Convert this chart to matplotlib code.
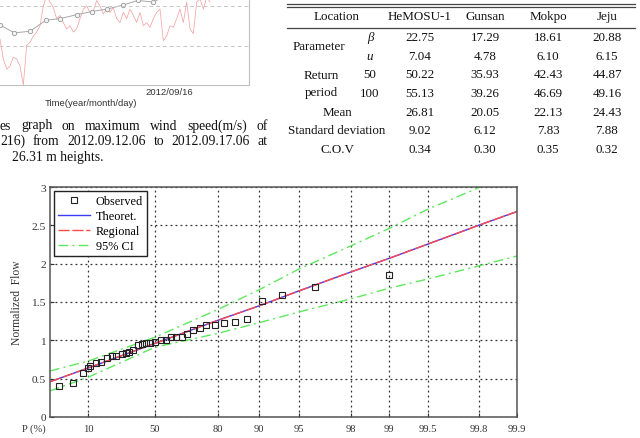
import numpy as np
import matplotlib
matplotlib.use('Agg')
import matplotlib.pyplot as plt
from matplotlib.lines import Line2D

W, H = 640, 439
SERIF = ['Liberation Serif', 'DejaVu Serif']
SANS = ['Liberation Sans', 'DejaVu Sans']

# --- time series (partial, top left) ---
ts_red_hours = list(range(64))
ts_red_speed = [5.8, 3.3, 2.0, 2.4, 3.5, 3.3, 2.4, 0.0, 5.0, 5.4, 6.2, 6.7, 7.5, 10.0, 11.3, 10.5,
                9.8, 8.4, 8.8, 7.9, 7.1, 7.5, 6.7, 7.1, 8.4, 9.6, 10.0, 9.2, 9.4, 10.7, 10.0, 9.0,
                9.6, 9.2, 9.8, 8.4, 7.9, 9.2, 8.4, 9.6, 8.8, 7.9, 9.2, 7.5, 7.9, 7.3, 8.4, 9.2,
                9.6, 5.6, 6.2, 7.5, 7.3, 8.4, 9.6, 7.9, 10.5, 7.1, 6.5, 10.5, 10.9, 9.6, 11.1, 10.5]
ts_grey_hours = [0, 4.3, 9.0, 13.8, 18.0, 23.0, 27.5, 32.0, 36.8, 41.3, 46.0, 50.5]
ts_grey_speed = [7.6, 6.6, 6.8, 8.2, 8.4, 8.9, 9.3, 9.6, 10.1, 10.7, 10.5, 11.5]
ts_tick_hour = 50.7
ts_tick_label = '2012/09/16'

caption_lines = ['es graph on maximum wind speed(m/s) of',
                 '216) from 2012.09.12.06 to 2012.09.17.06 at',
                 '26.31 m heights.']

# --- table (top right) ---
stations = ['HeMOSU-1', 'Gunsan', 'Mokpo', 'Jeju']
beta = ['22.75', '17.29', '18.61', '20.88']
u_par = ['7.04', '4.78', '6.10', '6.15']
rp50 = ['50.22', '35.93', '42.43', '44.87']
rp100 = ['55.13', '39.26', '46.69', '49.16']
mean = ['26.81', '20.05', '22.13', '24.43']
std = ['9.02', '6.12', '7.83', '7.88']
cov = ['0.34', '0.30', '0.35', '0.32']

# --- probability plot ---
obs_p = [1.95, 4.8, 7.8, 10.0, 10.6, 13.3, 16.0, 19.2, 22.1, 24.7, 28.4, 31.2, 33.4, 36.0,
         38.9, 41.6, 44.4, 47.0, 50.2, 53.7, 56.7, 59.5, 62.4, 65.2, 67.8, 70.6, 73.4, 76.0,
         79.2, 82.0, 84.9, 87.8, 90.5, 93.3, 96.2, 99.0]
obs_q = [0.40, 0.45, 0.57, 0.64, 0.67, 0.71, 0.72, 0.77, 0.79, 0.79, 0.82, 0.83, 0.85, 0.88,
         0.94, 0.95, 0.965, 0.97, 0.98, 1.00, 1.01, 1.04, 1.045, 1.05, 1.08, 1.135, 1.16, 1.195,
         1.195, 1.226, 1.235, 1.28, 1.51, 1.59, 1.70, 1.85]
fit_p = [1, 10, 50, 80, 90, 95, 98, 99, 99.5, 99.8, 99.9]
theoret_q = [0.46, 0.64, 0.96, 1.26, 1.45, 1.645, 1.89, 2.07, 2.255, 2.50, 2.68]
regional_q = [0.46, 0.64, 0.96, 1.26, 1.45, 1.645, 1.89, 2.07, 2.255, 2.50, 2.68]
ci_upper_q = [0.60, 0.73, 1.04, 1.40, 1.66, 1.93, 2.23, 2.46, 2.71, 2.99, 3.2]
ci_lower_q = [0.34, 0.52, 0.91, 1.09, 1.23, 1.37, 1.54, 1.68, 1.80, 1.97, 2.10]
p_ticks = [10, 50, 80, 90, 95, 98, 99, 99.5, 99.8, 99.9]
q_ticks = [0, 0.5, 1, 1.5, 2, 2.5, 3]


def px_axes(fig, x0, y0, x1, y1):
    # pixel box (top-left origin) -> figure axes
    return fig.add_axes([x0 / W, 1 - y1 / H, (x1 - x0) / W, (y1 - y0) / H])


def ftext(fig, x, y, s, **kw):
    return fig.text(x / W, 1 - y / H, s, **kw)


def gumbel(p):
    p = np.clip(np.asarray(p, dtype=float) / 100.0, 1e-12, 1 - 1e-12)
    return -np.log(-np.log(p))


def gumbel_inv(z):
    return 100.0 * np.exp(-np.exp(-np.asarray(z, dtype=float)))


fig = plt.figure(figsize=(W / 100, H / 100), dpi=100)

# ---------- top-left time series, cut by the page edge ----------
ax_ts = px_axes(fig, -100, -32.5, 249, 86)
ax_ts.plot(ts_red_hours, ts_red_speed, color='#f4a4a4', lw=0.55)
ax_ts.plot(ts_grey_hours, ts_grey_speed, color='#a8a8a8', lw=0.7, marker='o', ms=3.2,
           mfc='#f4f4f4', mec='#999999', mew=0.6)
ax_ts.set_xlim(-30, 74.7)
ax_ts.set_ylim(0, 15)
for yv in [5, 10]:
    ax_ts.axhline(yv, color='#c8c8c8', lw=0.7, ls=(0, (4, 3)))
ax_ts.set_xticks([ts_tick_hour])
ax_ts.set_xticklabels([ts_tick_label], family=SANS, fontsize=6.8, color='#333333')
ax_ts.tick_params(axis='x', length=0, pad=1.5)
ax_ts.set_yticks([])
for side in ['left', 'top']:
    ax_ts.spines[side].set_visible(False)
for side in ['right', 'bottom']:
    ax_ts.spines[side].set_color('#c0c0c0')
    ax_ts.spines[side].set_linewidth(0.8)
ftext(fig, 91, 103.5, 'Time(year/month/day)', family=SANS, fontsize=6.8, color='#333333',
      ha='center', va='center')

# ---------- caption, justified ----------
renderer = fig.canvas.get_renderer()


def justified(words, x0, x1, y, **kw):
    texts = [ftext(fig, 0, y, w, ha='left', va='baseline', **kw) for w in words]
    widths = [t.get_window_extent(renderer).width for t in texts]
    gap = (x1 - x0 - sum(widths)) / (len(words) - 1)
    x = x0
    for t, w in zip(texts, widths):
        t.set_x(x / W)
        x += w + gap


cap_kw = dict(family=SERIF, fontsize=9.8, color='#111111')
justified(caption_lines[0].split(), 0, 268, 129.5, **cap_kw)
justified(caption_lines[1].split(), 0, 268, 145, **cap_kw)
ftext(fig, 12, 160.5, caption_lines[2], ha='left', va='baseline', **cap_kw)

# ---------- table ----------
tab_kw = dict(family=SERIF, fontsize=9.4, color='#111111', va='center')
x_lab, x_sub = 337, 370
x_cols = [420, 485, 548, 607]
for yl in [5, 7.5, 29]:
    fig.add_artist(Line2D([287 / W, 635 / W], [1 - yl / H, 1 - yl / H], color='#444444', lw=0.9))
ftext(fig, x_lab, 17, 'Location', ha='center', **tab_kw)
for xc, name in zip(x_cols, stations):
    ftext(fig, xc, 17, name, ha='center', **tab_kw)
ftext(fig, 319, 47, 'Parameter', ha='center', **tab_kw)
ftext(fig, x_sub, 38, '\u03b2', ha='center', style='italic', **tab_kw)
ftext(fig, x_sub, 57, 'u', ha='center', style='italic', **tab_kw)
ftext(fig, 321, 76, 'Return', ha='center', **tab_kw)
ftext(fig, 321, 93, 'period', ha='center', **tab_kw)
ftext(fig, x_sub, 75, '50', ha='center', **tab_kw)
ftext(fig, x_sub, 94, '100', ha='center', **tab_kw)
ftext(fig, x_lab, 113, 'Mean', ha='center', **tab_kw)
ftext(fig, x_lab, 131, 'Standard deviation', ha='center', **tab_kw)
ftext(fig, x_lab, 150, 'C.O.V', ha='center', **tab_kw)
for row, yr in [(beta, 38), (u_par, 57), (rp50, 75), (rp100, 94), (mean, 113), (std, 131), (cov, 150)]:
    for xc, v in zip(x_cols, row):
        ftext(fig, xc, yr, v, ha='center', **tab_kw)

# ---------- probability plot ----------
ax = px_axes(fig, 50, 188, 517, 418)
ax.set_xscale('function', functions=(gumbel, gumbel_inv))
green, blue, red = '#5ee85e', '#3a3aff', '#ff4a4a'
ax.plot(fit_p, ci_upper_q, color=green, lw=1.0, ls=(0, (7, 3, 1.5, 3)))
ax.plot(fit_p, ci_lower_q, color=green, lw=1.0, ls=(0, (7, 3, 1.5, 3)))
ax.plot(fit_p, theoret_q, color=blue, lw=1.0)
ax.plot(fit_p, regional_q, color=red, lw=1.0, ls=(0, (8, 2)))
ax.plot(obs_p, obs_q, ls='none', marker='s', ms=5, mfc='none', mec='#222222', mew=0.8)
ax.set_xlim(1, 99.9)
ax.set_ylim(0, 3)
ax.set_xticks(p_ticks)
ax.set_xticklabels([f'{p:g}' for p in p_ticks], family=SERIF, fontsize=7.6, color='#333333')
ax.set_yticks(q_ticks)
ax.set_yticklabels([f'{q:g}' for q in q_ticks], family=SERIF, fontsize=8.2, color='#333333')
ax.xaxis.set_minor_locator(matplotlib.ticker.NullLocator())
ax.tick_params(direction='in', length=3, width=0.8, color='#333333')
ax.tick_params(axis='x', pad=5)
ax.tick_params(axis='y', pad=3)
ax.grid(True, color='#333333', lw=0.9, ls=(0, (1.5, 2.5)))
for s in ax.spines.values():
    s.set_color('#555555')
    s.set_linewidth(1.1)
ax.set_ylabel('Normalized  Flow', family=SERIF, fontsize=8.4, color='#333333', labelpad=6)
ftext(fig, 34, 429, 'P (%)', family=SERIF, fontsize=7.6, color='#333333', ha='center', va='center')

handles = [
    Line2D([], [], ls='none', marker='s', ms=5, mfc='none', mec='#222222', mew=0.8),
    Line2D([], [], color=blue, lw=1.0),
    Line2D([], [], color=red, lw=1.0, ls=(0, (8, 2))),
    Line2D([], [], color=green, lw=1.0, ls=(0, (7, 3, 1.5, 3))),
]
leg = ax.legend(handles, ['Observed', 'Theoret.', 'Regional', '95% CI'], loc='upper left',
                prop={'family': SERIF, 'size': 8.8}, handlelength=2.6, handletextpad=0.5,
                labelspacing=0.25, borderpad=0.35, borderaxespad=0.3, fancybox=False,
                framealpha=1, edgecolor='#222222')
leg.get_frame().set_linewidth(1.0)

fig.savefig('out.png', dpi=100)
